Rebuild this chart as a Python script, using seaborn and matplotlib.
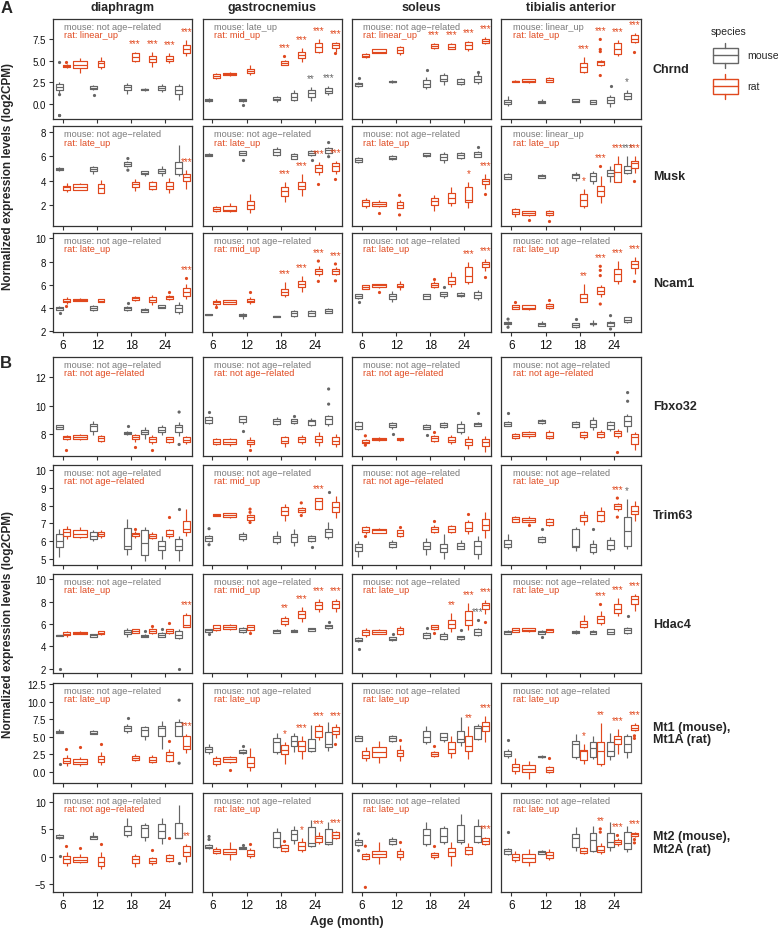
import matplotlib
matplotlib.use("Agg")
import numpy as np
import pandas as pd
import matplotlib.pyplot as plt
from matplotlib.patches import Rectangle
import seaborn as sns

TISSUES = ["dia", "gas", "sol", "tib"]
TISSUE_TITLES = ["diaphragm", "gastrocnemius", "soleus", "tibialis anterior"]
MOUSE_AGES = [6, 12, 18, 21, 24, 27]
RAT_AGES = [6, 9, 12, 18, 21, 24, 27]
AGE_TICKS = [6, 12, 18, 24]
NOT = "not age\u2212related"

# each box: (lower whisker, Q1, median, Q3, upper whisker), one per age
chrnd_mouse = dict(
    dia=[(1.2, 1.65, 1.95, 2.3, 2.6), (1.6, 1.75, 1.9, 2.05, 2.2), (1.2, 1.65, 1.95, 2.2, 2.4), (1.55, 1.6, 1.7, 1.8, 1.85), (1.45, 1.65, 1.9, 2.1, 2.3), (0.5, 1.2, 1.6, 2.1, 2.35)],
    gas=[(0.3, 0.35, 0.5, 0.65, 0.7), (0.2, 0.35, 0.45, 0.55, 0.65), (0.3, 0.45, 0.6, 0.8, 0.95), (0.4, 0.5, 0.8, 1.25, 1.65), (0.4, 0.8, 1.25, 1.6, 1.95), (1.05, 1.25, 1.55, 1.85, 2.1)],
    sol=[(1.95, 2.15, 2.3, 2.45, 2.5), (2.45, 2.5, 2.6, 2.7, 2.8), (1.7, 1.95, 2.3, 2.8, 3.15), (2.2, 2.7, 2.95, 3.35, 3.55), (2.2, 2.35, 2.6, 2.85, 3.0), (2.35, 2.6, 2.9, 3.25, 3.55)],
    tib=[(-0.2, 0.05, 0.25, 0.5, 0.95), (0.1, 0.12, 0.25, 0.35, 0.65), (0.2, 0.25, 0.4, 0.55, 0.6), (0.0, 0.05, 0.25, 0.45, 0.5), (-0.3, 0.1, 0.5, 0.8, 1.05), (0.5, 0.55, 0.95, 1.25, 1.65)],
)
chrnd_rat = dict(
    dia=[(4.2, 4.3, 4.4, 4.5, 4.6), (3.6, 4.15, 4.5, 5.0, 5.3), (4.1, 4.3, 4.7, 5.0, 5.4), (4.9, 5.0, 5.45, 5.85, 6.05), (4.3, 4.9, 5.2, 5.55, 6.0), (4.7, 5.0, 5.25, 5.55, 5.85), (5.5, 5.85, 6.3, 6.8, 7.4)],
    gas=[(2.9, 3.0, 3.2, 3.5, 3.6), (3.3, 3.35, 3.45, 3.55, 3.7), (3.35, 3.6, 3.8, 4.0, 4.5), (4.5, 4.55, 4.75, 4.95, 5.1), (4.9, 5.3, 5.65, 6.0, 6.45), (5.85, 6.05, 6.55, 7.05, 7.45), (6.05, 6.45, 6.8, 7.0, 7.2)],
    sol=[(5.3, 5.45, 5.6, 5.8, 5.9), (5.85, 5.9, 6.05, 6.3, 6.35), (5.65, 5.9, 6.2, 6.55, 6.7), (6.35, 6.45, 6.7, 6.95, 7.05), (6.3, 6.35, 6.6, 6.95, 7.05), (6.15, 6.3, 6.8, 7.1, 7.3), (6.9, 7.0, 7.3, 7.55, 7.7)],
    tib=[(2.5, 2.55, 2.65, 2.7, 2.8), (2.45, 2.5, 2.65, 2.85, 2.9), (2.5, 2.55, 2.75, 3.0, 3.15), (3.55, 3.75, 4.25, 4.7, 5.45), (4.4, 4.5, 4.8, 5.0, 5.1), (5.55, 5.8, 6.3, 7.0, 7.4), (7.0, 7.1, 7.55, 7.95, 8.2)],
)
chrnd_out = dict(
    dia=[("mouse", 6, -1.3), ("rat", 6, 4.8), ("mouse", 12, 1.1)],
    gas=[("mouse", 12, -0.1), ("rat", 18, 5.5), ("rat", 27, 5.85)],
    sol=[("mouse", 6, 3.0), ("mouse", 18, 3.95), ("mouse", 27, 3.75)],
    tib=[("rat", 21, 7.45), ("rat", 21, 6.3), ("rat", 21, 6.05), ("rat", 21, 3.3), ("mouse", 24, 2.1), ("rat", 27, 6.05)],
)
chrnd_stars = dict(
    dia=[("rat", 18, "***"), ("rat", 21, "***"), ("rat", 24, "***"), ("rat", 27, "***")],
    gas=[("rat", 18, "***"), ("rat", 21, "***"), ("rat", 24, "***"), ("rat", 27, "***"), ("mouse", 24, "**"), ("mouse", 27, "***")],
    sol=[("rat", 18, "***"), ("rat", 21, "***"), ("rat", 24, "***"), ("rat", 27, "***")],
    tib=[("rat", 18, "***"), ("rat", 21, "***"), ("rat", 24, "***"), ("rat", 27, "***"), ("mouse", 27, "*")],
)
chrnd_trend = dict(dia=(NOT, "linear_up"), gas=("late_up", "mid_up"), sol=(NOT, "linear_up"), tib=("linear_up", "late_up"))

musk_mouse = dict(
    dia=[(4.8, 4.85, 4.95, 5.05, 5.1), (4.55, 4.75, 4.95, 5.1, 5.2), (5.1, 5.2, 5.35, 5.5, 5.6), (4.4, 4.5, 4.6, 4.75, 4.8), (4.4, 4.65, 4.8, 4.95, 5.15), (4.4, 4.5, 5.0, 5.5, 6.9)],
    gas=[(6.0, 6.02, 6.1, 6.2, 6.25), (6.05, 6.1, 6.25, 6.4, 6.45), (6.0, 6.1, 6.35, 6.55, 6.7), (5.78, 5.8, 5.97, 6.2, 6.22), (6.0, 6.1, 6.25, 6.4, 6.5), (6.2, 6.25, 6.5, 6.65, 6.75)],
    sol=[(5.4, 5.5, 5.7, 5.85, 5.9), (5.7, 5.75, 5.88, 6.0, 6.05), (5.95, 5.98, 6.1, 6.22, 6.25), (5.45, 5.7, 5.95, 6.15, 6.35), (5.8, 5.82, 6.1, 6.28, 6.3), (5.9, 5.96, 6.15, 6.33, 6.4)],
    tib=[(4.1, 4.12, 4.33, 4.55, 4.6), (4.2, 4.25, 4.35, 4.45, 4.5), (3.95, 4.25, 4.45, 4.55, 4.7), (3.7, 3.95, 4.4, 4.65, 4.8), (3.9, 4.35, 4.65, 4.9, 5.2), (4.5, 4.65, 4.9, 5.2, 6.0)],
)
musk_rat = dict(
    dia=[(3.05, 3.25, 3.45, 3.6, 3.8), (3.2, 3.25, 3.45, 3.7, 3.8), (2.95, 3.0, 3.4, 3.7, 4.05), (3.15, 3.45, 3.7, 3.9, 4.1), (3.25, 3.3, 3.55, 3.85, 3.95), (3.0, 3.35, 3.6, 3.9, 4.25), (3.3, 3.95, 4.3, 4.55, 4.85)],
    gas=[(1.45, 1.5, 1.7, 1.85, 1.95), (1.45, 1.5, 1.6, 1.9, 2.2), (1.35, 1.7, 2.05, 2.35, 2.9), (2.25, 2.75, 3.15, 3.5, 3.9), (2.75, 3.3, 3.6, 3.9, 4.5), (4.45, 4.7, 5.05, 5.3, 5.5), (4.5, 4.8, 5.15, 5.4, 5.6)],
    sol=[(1.75, 1.95, 2.25, 2.4, 2.55), (1.85, 1.95, 2.1, 2.25, 2.45), (1.75, 1.8, 2.05, 2.25, 2.45), (1.5, 2.0, 2.3, 2.55, 2.8), (1.95, 2.2, 2.6, 3.0, 3.45), (1.8, 2.25, 2.45, 3.5, 3.85), (3.3, 3.7, 3.95, 4.15, 4.5)],
    tib=[(1.05, 1.25, 1.45, 1.65, 1.8), (1.15, 1.2, 1.35, 1.5, 1.55), (1.15, 1.2, 1.35, 1.55, 1.6), (1.8, 1.95, 2.4, 2.9, 3.3), (2.2, 2.75, 3.15, 3.55, 4.4), (3.85, 3.9, 4.7, 5.35, 6.0), (4.65, 5.05, 5.4, 5.6, 6.0)],
)
musk_out = dict(
    dia=[("mouse", 18, 5.8), ("mouse", 18, 4.85)],
    gas=[("mouse", 12, 5.65), ("mouse", 24, 5.7), ("rat", 24, 3.75), ("mouse", 27, 7.1), ("mouse", 27, 5.95), ("rat", 27, 4.1)],
    sol=[("rat", 9, 1.4), ("rat", 12, 2.8), ("rat", 12, 1.2), ("mouse", 27, 6.7), ("rat", 27, 2.9)],
    tib=[("rat", 9, 0.8), ("rat", 12, 0.7), ("rat", 21, 5.2), ("rat", 27, 4.0)],
)
musk_stars = dict(
    dia=[("rat", 27, "***")],
    gas=[("rat", 18, "***"), ("rat", 21, "***"), ("rat", 24, "***"), ("rat", 27, "***")],
    sol=[("rat", 24, "*"), ("rat", 27, "***")],
    tib=[("rat", 18, "*"), ("rat", 21, "***"), ("rat", 24, "***"), ("mouse", 27, "***"), ("rat", 27, "***")],
)
musk_trend = dict(dia=(NOT, "late_up"), gas=(NOT, "late_up"), sol=(NOT, "late_up"), tib=("linear_up", "late_up"))

ncam1_mouse = dict(
    dia=[(3.8, 3.87, 4.0, 4.12, 4.16), (3.75, 3.8, 4.0, 4.2, 4.25), (3.75, 3.8, 3.97, 4.1, 4.15), (3.65, 3.68, 3.8, 3.95, 4.0), (4.0, 4.02, 4.12, 4.25, 4.3), (3.5, 3.7, 4.0, 4.25, 4.5)],
    gas=[(3.38, 3.4, 3.43, 3.46, 3.48), (3.1, 3.3, 3.4, 3.48, 3.6), (3.25, 3.27, 3.3, 3.33, 3.35), (3.25, 3.3, 3.55, 3.78, 3.8), (3.3, 3.35, 3.6, 3.78, 3.8), (3.55, 3.6, 3.78, 3.95, 4.05)],
    sol=[(4.8, 4.88, 5.0, 5.2, 5.25), (4.55, 4.75, 5.0, 5.2, 5.5), (4.75, 4.8, 5.0, 5.2, 5.25), (4.85, 5.03, 5.2, 5.35, 5.4), (4.95, 5.0, 5.12, 5.28, 5.35), (4.7, 4.85, 5.15, 5.4, 5.6)],
    tib=[(2.55, 2.6, 2.7, 2.8, 2.85), (2.45, 2.5, 2.6, 2.7, 2.9), (2.3, 2.35, 2.55, 2.7, 2.75), (2.5, 2.6, 2.65, 2.7, 3.0), (2.45, 2.5, 2.7, 2.82, 2.9), (2.75, 2.78, 3.0, 3.2, 3.25)],
)
ncam1_rat = dict(
    dia=[(4.35, 4.5, 4.65, 4.8, 4.95), (4.6, 4.62, 4.7, 4.8, 4.85), (4.5, 4.55, 4.65, 4.75, 4.8), (4.6, 4.72, 4.85, 4.98, 5.05), (4.3, 4.5, 4.7, 4.95, 5.15), (4.7, 4.75, 4.92, 5.05, 5.1), (4.8, 5.05, 5.35, 5.7, 6.1)],
    gas=[(4.2, 4.35, 4.5, 4.62, 4.8), (4.35, 4.38, 4.55, 4.68, 4.72), (4.35, 4.5, 4.65, 4.8, 4.95), (4.95, 5.1, 5.4, 5.65, 6.25), (5.35, 5.8, 6.1, 6.3, 6.75), (6.8, 6.9, 7.2, 7.4, 7.65), (6.85, 6.95, 7.2, 7.4, 7.5)],
    sol=[(5.65, 5.68, 5.83, 5.95, 6.0), (5.75, 5.82, 5.95, 6.05, 6.1), (5.6, 5.8, 5.92, 6.05, 6.3), (5.75, 5.8, 6.0, 6.2, 6.3), (5.8, 6.1, 6.35, 6.7, 7.1), (6.1, 6.25, 6.8, 7.5, 7.95), (7.2, 7.5, 7.8, 8.0, 8.25)],
    tib=[(3.9, 3.95, 4.1, 4.25, 4.3), (3.85, 3.9, 4.05, 4.25, 4.3), (3.95, 4.0, 4.15, 4.35, 4.4), (4.5, 4.52, 4.85, 5.2, 6.1), (4.95, 5.2, 5.5, 5.8, 5.95), (6.1, 6.35, 6.95, 7.4, 8.1), (6.95, 7.45, 7.8, 8.1, 8.4)],
)
ncam1_out = dict(
    dia=[("mouse", 6, 3.55), ("rat", 6, 4.15), ("mouse", 18, 4.42), ("rat", 24, 5.37), ("rat", 27, 6.6)],
    gas=[("rat", 6, 4.1), ("rat", 12, 5.42), ("rat", 24, 8.05), ("rat", 24, 6.3), ("rat", 27, 7.8), ("rat", 27, 6.35)],
    sol=[("mouse", 6, 4.55), ("rat", 9, 5.42), ("rat", 18, 6.5), ("mouse", 21, 5.8), ("rat", 27, 6.65)],
    tib=[("mouse", 6, 3.05), ("mouse", 6, 2.35), ("rat", 6, 4.5), ("rat", 12, 4.7), ("mouse", 18, 3.05), ("rat", 21, 7.6), ("rat", 21, 7.25), ("rat", 21, 6.8), ("rat", 21, 4.35), ("mouse", 24, 3.35), ("mouse", 24, 2.2), ("rat", 27, 6.3)],
)
ncam1_stars = dict(
    dia=[("rat", 27, "***")],
    gas=[("rat", 18, "***"), ("rat", 21, "***"), ("rat", 24, "***"), ("rat", 27, "***")],
    sol=[("rat", 24, "***"), ("rat", 27, "***")],
    tib=[("rat", 18, "**"), ("rat", 21, "***"), ("rat", 24, "***"), ("rat", 27, "***")],
)
ncam1_trend = dict(dia=(NOT, "late_up"), gas=(NOT, "mid_up"), sol=(NOT, "late_up"), tib=(NOT, "late_up"))

fbxo32_mouse = dict(
    dia=[(8.35, 8.38, 8.5, 8.62, 8.68), (7.95, 8.25, 8.55, 8.75, 8.9), (7.95, 8.0, 8.08, 8.2, 8.25), (7.7, 8.03, 8.2, 8.33, 8.5), (7.95, 8.15, 8.33, 8.5, 8.65), (7.9, 8.2, 8.5, 8.65, 8.85)],
    gas=[(8.75, 8.8, 9.0, 9.2, 9.3), (8.7, 8.85, 9.05, 9.25, 9.3), (8.65, 8.75, 8.92, 9.08, 9.2), (8.75, 8.8, 8.95, 9.05, 9.1), (8.55, 8.68, 8.9, 9.03, 9.15), (8.6, 8.73, 9.05, 9.25, 9.35)],
    sol=[(8.3, 8.38, 8.6, 8.85, 8.95), (8.4, 8.5, 8.65, 8.8, 8.85), (8.35, 8.38, 8.52, 8.65, 8.7), (8.45, 8.5, 8.65, 8.8, 8.85), (8.0, 8.2, 8.43, 8.73, 8.9), (8.55, 8.6, 8.7, 8.8, 8.85)],
    tib=[(8.55, 8.6, 8.75, 8.88, 8.95), (8.75, 8.8, 8.92, 9.02, 9.05), (8.45, 8.5, 8.7, 8.88, 8.95), (8.33, 8.5, 8.75, 9.03, 9.2), (8.25, 8.38, 8.65, 8.85, 8.95), (8.15, 8.6, 8.95, 9.25, 9.4)],
)
fbxo32_rat = dict(
    dia=[(7.6, 7.7, 7.8, 7.9, 7.95), (7.6, 7.65, 7.8, 7.95, 8.0), (7.5, 7.57, 7.75, 7.88, 7.95), (7.5, 7.7, 7.82, 7.95, 8.0), (7.35, 7.45, 7.68, 7.8, 7.95), (7.4, 7.5, 7.68, 7.8, 7.85), (7.35, 7.45, 7.63, 7.8, 7.9)],
    gas=[(7.25, 7.3, 7.5, 7.65, 7.75), (7.2, 7.3, 7.5, 7.68, 7.75), (7.1, 7.3, 7.45, 7.62, 7.85), (7.15, 7.4, 7.55, 7.8, 7.9), (7.3, 7.5, 7.68, 7.85, 7.95), (7.2, 7.45, 7.68, 7.92, 8.15), (7.15, 7.3, 7.55, 7.85, 8.05)],
    sol=[(7.35, 7.4, 7.5, 7.6, 7.7), (7.55, 7.58, 7.68, 7.78, 7.82), (7.55, 7.58, 7.65, 7.72, 7.75), (7.5, 7.57, 7.73, 7.87, 7.95), (7.3, 7.5, 7.63, 7.8, 7.95), (7.0, 7.27, 7.45, 7.68, 7.92), (6.75, 7.22, 7.45, 7.68, 7.92)],
    tib=[(7.7, 7.76, 7.9, 8.02, 8.1), (7.75, 7.87, 8.05, 8.18, 8.25), (7.7, 7.74, 7.92, 8.15, 8.3), (7.7, 7.8, 7.97, 8.15, 8.25), (7.75, 7.85, 8.05, 8.15, 8.3), (7.75, 7.92, 8.1, 8.25, 8.35), (6.9, 7.3, 7.8, 8.03, 8.2)],
)
fbxo32_out = dict(
    dia=[("rat", 6, 6.9), ("mouse", 18, 8.55), ("rat", 18, 7.1), ("rat", 21, 6.9), ("mouse", 27, 9.55), ("mouse", 27, 7.3)],
    gas=[("mouse", 6, 9.55), ("mouse", 12, 8.25), ("rat", 12, 6.9), ("mouse", 21, 9.28), ("mouse", 27, 11.15), ("mouse", 27, 10.1)],
    sol=[("rat", 6, 7.9), ("rat", 6, 7.25), ("mouse", 12, 8.05), ("mouse", 18, 7.95), ("rat", 18, 8.15), ("mouse", 27, 9.47)],
    tib=[("mouse", 6, 9.5), ("rat", 24, 6.76), ("mouse", 27, 10.9), ("mouse", 27, 10.3)],
)
fbxo32_stars = dict(dia=[], gas=[], sol=[], tib=[])
fbxo32_trend = dict(dia=(NOT, NOT), gas=(NOT, NOT), sol=(NOT, NOT), tib=(NOT, NOT))

trim63_mouse = dict(
    dia=[(5.1, 5.65, 6.0, 6.4, 6.7), (6.0, 6.1, 6.3, 6.5, 6.65), (5.25, 5.55, 5.75, 6.75, 7.25), (4.9, 5.25, 5.9, 6.6, 6.8), (5.0, 5.48, 5.75, 6.03, 6.3), (4.9, 5.48, 5.72, 6.1, 6.3)],
    gas=[(5.95, 6.03, 6.15, 6.28, 6.35), (6.0, 6.1, 6.28, 6.42, 6.5), (5.85, 5.98, 6.15, 6.3, 6.55), (5.75, 5.95, 6.22, 6.4, 6.7), (5.95, 6.03, 6.18, 6.3, 6.35), (6.1, 6.22, 6.5, 6.7, 7.05)],
    sol=[(5.1, 5.42, 5.65, 5.85, 6.0), (5.6, 5.66, 5.85, 5.98, 6.05), (5.25, 5.55, 5.75, 5.95, 6.15), (5.0, 5.38, 5.6, 5.85, 6.4), (5.55, 5.57, 5.75, 5.9, 6.05), (5.0, 5.3, 5.72, 6.03, 6.3)],
    tib=[(5.55, 5.66, 5.85, 6.08, 6.4), (5.9, 5.94, 6.1, 6.22, 6.3), (5.47, 5.66, 5.75, 6.7, 6.8), (5.3, 5.38, 5.65, 5.85, 6.05), (5.47, 5.57, 5.8, 6.09, 6.25), (5.55, 5.75, 6.55, 7.35, 8.35)],
)
trim63_rat = dict(
    dia=[(6.1, 6.3, 6.5, 6.7, 6.85), (6.2, 6.22, 6.42, 6.6, 6.8), (6.2, 6.28, 6.42, 6.52, 6.6), (6.2, 6.28, 6.38, 6.47, 6.55), (6.1, 6.17, 6.3, 6.42, 6.5), (6.2, 6.28, 6.42, 6.6, 6.7), (6.3, 6.5, 6.7, 7.15, 7.8)],
    gas=[(7.42, 7.44, 7.48, 7.52, 7.55), (7.3, 7.35, 7.48, 7.56, 7.6), (7.15, 7.17, 7.35, 7.45, 7.5), (7.15, 7.48, 7.72, 7.9, 8.1), (7.6, 7.66, 7.75, 7.85, 7.9), (7.75, 7.81, 8.28, 8.42, 8.45), (7.3, 7.63, 7.9, 8.2, 8.55)],
    sol=[(6.4, 6.5, 6.65, 6.78, 6.85), (6.45, 6.47, 6.6, 6.68, 6.72), (6.25, 6.31, 6.45, 6.6, 6.65), (6.45, 6.5, 6.68, 6.82, 6.88), (6.45, 6.5, 6.68, 6.84, 6.9), (6.4, 6.55, 6.72, 7.05, 7.2), (6.15, 6.6, 6.9, 7.25, 7.62)],
    tib=[(7.05, 7.1, 7.26, 7.35, 7.4), (7.0, 7.1, 7.2, 7.3, 7.4), (6.85, 6.88, 7.1, 7.25, 7.3), (6.9, 7.15, 7.33, 7.48, 7.7), (7.05, 7.16, 7.45, 7.72, 7.9), (7.7, 7.81, 8.0, 8.08, 8.15), (7.15, 7.53, 7.72, 7.97, 8.28)],
)
trim63_out = dict(
    dia=[("rat", 18, 6.7), ("rat", 24, 7.35), ("mouse", 27, 7.8)],
    gas=[("mouse", 6, 6.7), ("mouse", 6, 5.8), ("rat", 12, 7.8), ("rat", 12, 7.62), ("rat", 12, 7.05), ("rat", 21, 8.15), ("rat", 21, 7.44), ("mouse", 24, 5.65), ("mouse", 27, 8.75)],
    sol=[("rat", 6, 6.28), ("rat", 12, 6.8), ("rat", 18, 7.15), ("rat", 24, 7.55)],
    tib=[("rat", 9, 6.88), ("mouse", 12, 6.7), ("mouse", 21, 6.7), ("rat", 24, 8.42), ("rat", 24, 7.35)],
)
trim63_stars = dict(dia=[], gas=[("rat", 24, "***")], sol=[], tib=[("rat", 24, "***"), ("mouse", 27, "*")])
trim63_trend = dict(dia=(NOT, NOT), gas=(NOT, "mid_up"), sol=(NOT, NOT), tib=(NOT, "late_up"))

hdac4_mouse = dict(
    dia=[(4.9, 4.93, 4.98, 5.02, 5.05), (4.8, 4.84, 4.98, 5.1, 5.15), (4.85, 5.07, 5.28, 5.5, 5.65), (4.8, 4.84, 4.95, 5.05, 5.1), (4.8, 4.84, 5.03, 5.2, 5.25), (4.7, 4.75, 5.03, 5.35, 5.6)],
    gas=[(5.25, 5.29, 5.43, 5.57, 5.6), (5.2, 5.29, 5.47, 5.64, 5.75), (5.18, 5.22, 5.38, 5.5, 5.55), (5.25, 5.29, 5.38, 5.48, 5.52), (5.35, 5.38, 5.52, 5.62, 5.66), (5.6, 5.64, 5.78, 5.87, 5.9)],
    sol=[(4.4, 4.45, 4.6, 4.75, 4.8), (4.5, 4.54, 4.7, 4.83, 4.88), (4.7, 4.75, 4.98, 5.2, 5.3), (4.55, 4.63, 4.9, 5.13, 5.3), (4.6, 4.69, 4.8, 4.89, 4.95), (4.95, 5.04, 5.33, 5.52, 5.65)],
    tib=[(5.1, 5.13, 5.28, 5.42, 5.45), (5.1, 5.13, 5.28, 5.42, 5.45), (5.15, 5.2, 5.32, 5.42, 5.45), (5.1, 5.13, 5.28, 5.42, 5.45), (5.1, 5.13, 5.33, 5.57, 5.6), (5.15, 5.2, 5.43, 5.63, 5.7)],
)
hdac4_rat = dict(
    dia=[(4.85, 4.98, 5.12, 5.28, 5.35), (5.1, 5.13, 5.22, 5.33, 5.38), (5.05, 5.07, 5.22, 5.35, 5.4), (5.2, 5.22, 5.42, 5.58, 5.6), (5.15, 5.22, 5.4, 5.58, 5.62), (5.15, 5.2, 5.38, 5.52, 5.6), (5.7, 5.73, 5.88, 6.77, 6.95)],
    gas=[(5.4, 5.43, 5.63, 5.87, 5.95), (5.45, 5.52, 5.72, 5.93, 6.0), (5.4, 5.43, 5.72, 5.87, 5.95), (5.85, 6.03, 6.27, 6.53, 6.75), (6.2, 6.55, 6.85, 7.2, 7.5), (7.05, 7.3, 7.72, 7.96, 8.25), (7.05, 7.43, 7.8, 8.02, 8.25)],
    sol=[(4.85, 4.98, 5.28, 5.5, 5.65), (5.1, 5.13, 5.33, 5.5, 5.55), (5.0, 5.13, 5.43, 5.63, 5.8), (5.45, 5.52, 5.7, 5.87, 5.95), (5.3, 5.64, 6.03, 6.32, 7.0), (5.43, 5.88, 6.32, 7.2, 7.9), (6.85, 7.3, 7.65, 7.9, 8.1)],
    tib=[(5.25, 5.29, 5.47, 5.63, 5.68), (5.3, 5.34, 5.5, 5.63, 5.67), (5.25, 5.29, 5.43, 5.57, 5.6), (5.63, 5.73, 6.03, 6.23, 6.83), (5.88, 6.09, 6.47, 6.7, 7.2), (6.7, 7.0, 7.37, 7.8, 8.3), (7.2, 7.8, 8.25, 8.5, 8.7)],
)
hdac4_out = dict(
    dia=[("mouse", 6, 2.0), ("mouse", 21, 5.34), ("rat", 21, 5.79), ("mouse", 24, 5.52), ("rat", 24, 6.1), ("mouse", 27, 2.0)],
    gas=[("mouse", 6, 5.07), ("rat", 12, 5.2), ("mouse", 27, 6.18)],
    sol=[("mouse", 6, 3.8), ("mouse", 12, 5.13), ("mouse", 18, 5.64), ("rat", 18, 5.22), ("mouse", 24, 5.43), ("mouse", 27, 6.38), ("rat", 27, 6.18)],
    tib=[("mouse", 12, 4.85), ("rat", 21, 7.81), ("mouse", 27, 6.7)],
)
hdac4_stars = dict(
    dia=[("rat", 27, "***")],
    gas=[("rat", 18, "**"), ("rat", 21, "***"), ("rat", 24, "***"), ("rat", 27, "***")],
    sol=[("rat", 21, "**"), ("rat", 24, "***"), ("mouse", 27, "***"), ("rat", 27, "***")],
    tib=[("rat", 21, "***"), ("rat", 24, "***"), ("rat", 27, "***")],
)
hdac4_trend = dict(dia=(NOT, "late_up"), gas=(NOT, "mid_up"), sol=(NOT, "late_up"), tib=(NOT, "late_up"))

mt1_mouse = dict(
    dia=[(5.5, 5.53, 5.7, 5.85, 6.1), (5.35, 5.38, 5.6, 5.8, 5.9), (5.5, 5.85, 6.2, 6.55, 6.8), (4.5, 5.15, 6.0, 6.35, 6.6), (3.25, 5.15, 6.2, 6.55, 7.25), (5.1, 5.14, 6.55, 7.05, 7.5)],
    gas=[(2.55, 2.78, 3.2, 3.5, 3.95), (2.55, 2.68, 2.9, 3.15, 3.3), (2.55, 2.78, 4.2, 4.9, 5.55), (2.8, 3.72, 4.35, 5.15, 5.6), (2.85, 3.0, 3.35, 4.67, 6.65), (3.0, 3.5, 3.95, 5.7, 7.05)],
    sol=[(4.4, 4.43, 4.8, 5.14, 5.2), (4.3, 4.43, 4.8, 5.14, 5.3), (3.95, 4.2, 5.0, 5.85, 6.55), (4.3, 4.57, 5.0, 5.48, 5.6), (3.72, 4.2, 4.67, 5.85, 7.75), (4.5, 4.67, 6.2, 6.56, 6.8)],
    tib=[(2.0, 2.3, 2.6, 3.0, 3.2), (2.0, 2.07, 2.2, 2.3, 2.35), (1.85, 2.07, 3.95, 4.43, 5.38), (1.85, 2.07, 3.35, 4.29, 5.05), (1.73, 2.3, 3.0, 4.29, 5.53), (2.05, 2.78, 3.95, 5.14, 5.4)],
)
mt1_rat = dict(
    dia=[(0.9, 1.26, 1.6, 1.93, 2.4), (0.85, 1.12, 1.45, 1.83, 2.1), (1.0, 1.45, 1.88, 2.3, 2.8), (1.55, 1.73, 2.0, 2.3, 2.5), (1.3, 1.45, 1.7, 2.07, 2.35), (1.4, 1.6, 2.45, 2.78, 3.2), (2.7, 3.25, 3.7, 5.15, 5.4)],
    gas=[(0.9, 1.12, 1.6, 1.93, 2.3), (1.3, 1.45, 1.8, 2.07, 2.3), (0.15, 0.65, 1.35, 2.07, 3.35), (1.1, 2.55, 3.1, 3.8, 4.2), (1.85, 3.0, 3.7, 4.43, 5.15), (4.6, 4.91, 5.85, 6.55, 6.8), (4.9, 5.38, 5.85, 6.34, 6.75)],
    sol=[(1.5, 1.93, 2.45, 3.0, 3.5), (1.35, 2.07, 2.85, 3.5, 4.43), (1.5, 2.3, 2.7, 3.15, 3.8), (2.2, 2.3, 2.6, 2.87, 3.0), (2.05, 2.68, 3.25, 4.2, 5.15), (1.85, 3.0, 3.7, 5.14, 6.5), (4.2, 5.85, 6.55, 7.04, 7.9)],
    tib=[(-0.3, 0.17, 0.65, 1.12, 1.93), (-1.0, -0.05, 0.4, 0.95, 1.6), (-0.2, 0.03, 0.35, 0.65, 0.9), (1.1, 1.73, 3.0, 3.15, 3.95), (0.9, 1.12, 3.0, 4.2, 7.0), (2.55, 3.96, 4.67, 5.14, 6.1), (5.85, 6.0, 6.3, 6.66, 6.95)],
)
mt1_out = dict(
    dia=[("mouse", 6, 1.1), ("rat", 6, 3.25), ("rat", 9, 3.5), ("rat", 12, 3.95), ("mouse", 18, 7.65), ("rat", 24, 4.45), ("mouse", 27, 10.2), ("mouse", 27, 1.25)],
    gas=[("rat", 9, 0.3), ("mouse", 12, 3.65), ("rat", 27, 3.95)],
    sol=[("rat", 12, 4.57), ("rat", 18, 3.72)],
    tib=[("mouse", 6, 4.57), ("rat", 12, 1.93), ("rat", 27, 5.14), ("rat", 27, 4.77)],
)
mt1_stars = dict(
    dia=[("rat", 27, "***")],
    gas=[("rat", 18, "*"), ("rat", 21, "***"), ("rat", 24, "***"), ("rat", 27, "***")],
    sol=[("rat", 24, "**"), ("rat", 27, "***")],
    tib=[("rat", 18, "*"), ("rat", 21, "**"), ("rat", 24, "***"), ("rat", 27, "***")],
)
mt1_trend = dict(dia=(NOT, "late_up"), gas=(NOT, "late_up"), sol=(NOT, "late_up"), tib=(NOT, "late_up"))

mt2_mouse = dict(
    dia=[(3.2, 3.39, 3.7, 4.0, 4.2), (3.2, 3.27, 3.6, 3.87, 4.5), (3.57, 4.0, 4.8, 5.6, 7.08), (2.95, 3.57, 5.2, 5.85, 6.16), (2.35, 3.4, 4.8, 6.0, 7.1), (3.39, 3.39, 3.45, 6.2, 9.5)],
    gas=[(1.4, 1.55, 1.85, 2.16, 2.3), (1.35, 1.42, 1.58, 1.73, 1.8), (1.55, 1.73, 3.4, 4.5, 5.25), (2.35, 3.14, 4.2, 4.98, 5.7), (1.8, 2.03, 2.55, 5.5, 6.7), (2.15, 2.34, 2.65, 5.1, 6.35)],
    sol=[(2.0, 2.16, 2.65, 3.14, 3.4), (2.2, 2.34, 2.85, 3.27, 3.6), (2.03, 2.34, 4.0, 5.11, 6.35), (2.3, 2.77, 3.75, 5.24, 5.6), (2.34, 2.66, 3.15, 5.85, 7.88), (2.6, 2.77, 3.75, 5.72, 6.96)],
    tib=[(0.3, 0.5, 1.05, 1.42, 1.6), (0.4, 0.5, 0.8, 1.1, 1.25), (1.1, 1.73, 3.4, 4.19, 5.42), (0.81, 1.11, 3.14, 4.37, 5.61), (1.1, 1.73, 2.65, 4.37, 6.35), (0.8, 1.42, 2.53, 4.6, 5.6)],
)
mt2_rat = dict(
    dia=[(-1.65, -1.15, -0.5, 0.18, 0.8), (-1.2, -0.92, -0.6, 0.0, 0.5), (-2.25, -1.65, -0.9, 0.0, 0.92), (-1.85, -1.16, -0.5, 0.18, 0.5), (-1.55, -1.15, -0.75, -0.3, 0.0), (-1.0, -0.74, -0.3, 0.37, 0.55), (-1.0, 0.07, 0.92, 1.92, 2.35)],
    gas=[(0.4, 0.68, 1.05, 1.42, 1.75), (-0.6, 0.45, 0.85, 1.35, 2.7), (-0.2, 0.18, 0.55, 1.24, 1.5), (0.85, 1.11, 1.65, 2.16, 2.3), (0.8, 1.29, 2.03, 2.66, 3.5), (2.4, 2.77, 3.4, 3.87, 4.6), (3.2, 3.39, 4.0, 4.5, 4.8)],
    sol=[(-0.6, -0.42, 0.1, 0.5, 0.6), (-1.35, -0.12, 0.5, 1.11, 2.77), (-0.7, -0.12, 0.5, 1.11, 1.5), (-0.4, -0.12, 0.3, 0.68, 0.9), (-1.65, 0.18, 0.8, 1.55, 2.66), (0.3, 0.5, 1.25, 1.73, 2.6), (2.05, 2.34, 2.95, 3.39, 3.7)],
    tib=[(-1.0, -0.55, 0.0, 0.5, 1.0), (-1.65, -0.92, -0.3, 0.5, 1.42), (-0.6, -0.3, 0.3, 0.81, 1.4), (0.5, 0.68, 1.1, 1.55, 1.8), (0.5, 0.81, 1.25, 2.03, 2.5), (2.0, 2.34, 2.77, 3.14, 3.4), (3.7, 3.87, 4.1, 4.37, 4.6)],
)
mt2_out = dict(
    dia=[("mouse", 6, 0.18), ("rat", 6, 1.92), ("rat", 9, 1.55), ("rat", 12, 2.34), ("rat", 21, 1.3), ("rat", 24, 3.39), ("mouse", 27, -1.16)],
    gas=[("mouse", 6, 3.7), ("mouse", 6, 3.15), ("mouse", 12, 2.16), ("rat", 12, 2.35), ("rat", 18, 2.95)],
    sol=[("mouse", 6, 4.2), ("mouse", 6, 1.1), ("rat", 6, 1.92), ("rat", 6, -5.65), ("rat", 12, 2.66), ("rat", 18, 2.03)],
    tib=[("mouse", 6, 4.5), ("rat", 21, 5.1), ("rat", 21, 4.5), ("rat", 24, 4.0), ("rat", 27, 3.14), ("rat", 27, 2.53)],
)
mt2_stars = dict(
    dia=[("rat", 27, "**")],
    gas=[("rat", 21, "*"), ("rat", 24, "***"), ("rat", 27, "***")],
    sol=[("rat", 27, "***")],
    tib=[("rat", 21, "**"), ("rat", 24, "***"), ("rat", 27, "***")],
)
mt2_trend = dict(dia=(NOT, NOT), gas=(NOT, "late_up"), sol=(NOT, "late_up"), tib=(NOT, "late_up"))

GENES = [
    ("Chrnd", chrnd_mouse, chrnd_rat, chrnd_out, chrnd_stars, chrnd_trend),
    ("Musk", musk_mouse, musk_rat, musk_out, musk_stars, musk_trend),
    ("Ncam1", ncam1_mouse, ncam1_rat, ncam1_out, ncam1_stars, ncam1_trend),
    ("Fbxo32", fbxo32_mouse, fbxo32_rat, fbxo32_out, fbxo32_stars, fbxo32_trend),
    ("Trim63", trim63_mouse, trim63_rat, trim63_out, trim63_stars, trim63_trend),
    ("Hdac4", hdac4_mouse, hdac4_rat, hdac4_out, hdac4_stars, hdac4_trend),
    ("Mt1 (mouse),\nMt1A (rat)", mt1_mouse, mt1_rat, mt1_out, mt1_stars, mt1_trend),
    ("Mt2 (mouse),\nMt2A (rat)", mt2_mouse, mt2_rat, mt2_out, mt2_stars, mt2_trend),
]
# y range and ticks of each gene row
ROW_Y = [(-1.7, 9.8, [0, 2.5, 5, 7.5]), (0.3, 8.45, [2, 4, 6, 8]), (1.94, 10.47, [2, 4, 6, 8, 10]),
         (6.5, 13.37, [8, 10, 12]), (4.66, 10.28, [5, 6, 7, 8, 9, 10]), (1.64, 10.45, [2, 4, 6, 8, 10]),
         (-1.56, 12.64, [0, 2.5, 5, 7.5, 10, 12.5]), (-6.5, 11.7, [-5, 0, 5, 10])]

sns.set_style("ticks")
plt.rcParams["font.family"] = ["Liberation Sans", "DejaVu Sans"]

MOUSE_C, RAT_C = "#666666", "#e0481e"
PALETTE = {"mouse": MOUSE_C, "rat": RAT_C}
SPECIES = ["mouse", "rat"]

box_rows, out_rows = [], []
for gene, mouse, rat, outl, _, _ in GENES:
    for t in TISSUES:
        for sp, ages, boxes in (("mouse", MOUSE_AGES, mouse[t]), ("rat", RAT_AGES, rat[t])):
            for age, stats in zip(ages, boxes):
                box_rows += [(gene, t, sp, age, v) for v in stats]
        out_rows += [(gene, t, sp, age, v) for sp, age, v in outl[t]]
cols = ["gene", "tissue", "species", "age", "value"]
boxes_df = pd.DataFrame(box_rows, columns=cols)
out_df = pd.DataFrame(out_rows, columns=cols)

W, H = 778, 929
fig = plt.figure(figsize=(W / 100, H / 100), dpi=100)
lay = fig.add_axes([0, 0, 1, 1])
lay.set_xlim(0, W)
lay.set_ylim(H, 0)
lay.axis("off")

COL_LEFT = [53, 202.5, 352, 501.5]
COL_W = 139.5
ROW_SPAN = [(20, 120), (127, 227), (234, 333), (358, 457), (466, 566), (575, 674), (684, 784), (794, 893)]
DODGE = 0.9 * 3 / 4  # centre offset of the dodged boxes (width 0.9 of 3-month spacing)
BOX_KW = dict(x="age", y="value", native_scale=True, orient="x", whis=(0, 100),
              showfliers=False, fill=False, linewidth=0.85, capprops=dict(visible=False))
PT_KW = dict(x="age", y="value", native_scale=True, orient="x", jitter=False, size=2.3, linewidth=0)

for r, (gene, _, _, _, stars, trend) in enumerate(GENES):
    top, bot = ROW_SPAN[r]
    ylo, yhi, yticks = ROW_Y[r]
    for c, t in enumerate(TISSUES):
        ax = fig.add_axes([COL_LEFT[c] / W, 1 - bot / H, COL_W / W, (bot - top) / H])
        core = boxes_df[(boxes_df.gene == gene) & (boxes_df.tissue == t)]
        outl = out_df[(out_df.gene == gene) & (out_df.tissue == t)]

        sns.boxplot(data=core[core.age != 9], hue="species", hue_order=SPECIES, palette=PALETTE,
                    width=0.9, gap=0.1, legend=False, ax=ax, **BOX_KW)
        sns.boxplot(data=core[core.age == 9], color=RAT_C, width=2.4, ax=ax, **BOX_KW)

        pts = outl[outl.age != 9]
        if len(pts):
            pts = pd.concat([core[core.age != 9].assign(value=np.nan), pts])
            sns.stripplot(data=pts, hue="species", hue_order=SPECIES, palette=PALETTE,
                          dodge=True, legend=False, ax=ax, **PT_KW)
        if (outl.age == 9).any():
            sns.stripplot(data=outl[outl.age == 9], color=RAT_C, ax=ax, **PT_KW)

        allv = pd.concat([core, outl])
        for sp, age, lab in stars[t]:
            vmax = allv[(allv.species == sp) & (allv.age == age)].value.max()
            ax.text(age + (DODGE if sp == "rat" else -DODGE), vmax + 0.09 * (yhi - ylo), lab,
                    color=PALETTE[sp], ha="center", va="center", fontsize=7)

        ax.text(0.08, 0.925, "mouse: " + trend[t][0], transform=ax.transAxes,
                color="#7a7a7a", fontsize=6.6, va="center")
        ax.text(0.08, 0.84, "rat: " + trend[t][1], transform=ax.transAxes,
                color=RAT_C, fontsize=6.6, va="center")

        ax.set_xlim(4.25, 28.75)
        ax.set_ylim(ylo, yhi)
        ax.set_xticks(AGE_TICKS)
        ax.set_yticks(yticks)
        ax.set_xlabel("")
        ax.set_ylabel("")
        ax.tick_params(length=3, width=0.8, color="#333333", pad=2)
        ax.tick_params(axis="x", labelsize=8.5, labelcolor="#111111")
        ax.tick_params(axis="y", labelsize=7, labelcolor="#111111")
        if c > 0:
            ax.tick_params(axis="y", left=False, labelleft=False)
        if r not in (2, 7):
            ax.tick_params(axis="x", labelbottom=False)
        for s in ax.spines.values():
            s.set_visible(True)
            s.set_color("#333333")
            s.set_linewidth(0.9)

    lay.text(653, (top + bot) / 2, gene, ha="left", va="center", fontsize=9,
             fontweight="bold", linespacing=1.1)

for c, title in enumerate(TISSUE_TITLES):
    lay.text(COL_LEFT[c] + COL_W / 2, 8, title, ha="center", va="center", fontsize=9, fontweight="bold")

lay.text(7, 8, "A", ha="center", va="center", fontsize=12, fontweight="bold")
lay.text(6, 363, "B", ha="center", va="center", fontsize=12, fontweight="bold")
for yc in (176, 625):
    lay.text(8, yc, "Normalized expression levels (log2CPM)", rotation=90, ha="center",
             va="center", fontsize=8.5, fontweight="bold")
lay.text(347, 922, "Age (month)", ha="center", va="center", fontsize=9, fontweight="bold")

# legend with box-shaped keys
lay.text(711, 32, "species", ha="left", va="center", fontsize=7.6)
for sp, yc in (("mouse", 56), ("rat", 87)):
    lay.add_patch(Rectangle((713, yc - 7.5), 25, 15, fill=False, ec=PALETTE[sp], lw=1))
    lay.plot([713, 738], [yc, yc], color=PALETTE[sp], lw=1)
    lay.plot([725.5, 725.5], [yc - 12.5, yc - 7.5], color=PALETTE[sp], lw=1)
    lay.plot([725.5, 725.5], [yc + 7.5, yc + 12.5], color=PALETTE[sp], lw=1)
    lay.text(747, yc, sp, ha="left", va="center", fontsize=7.6)

fig.savefig("out.png", dpi=100)
